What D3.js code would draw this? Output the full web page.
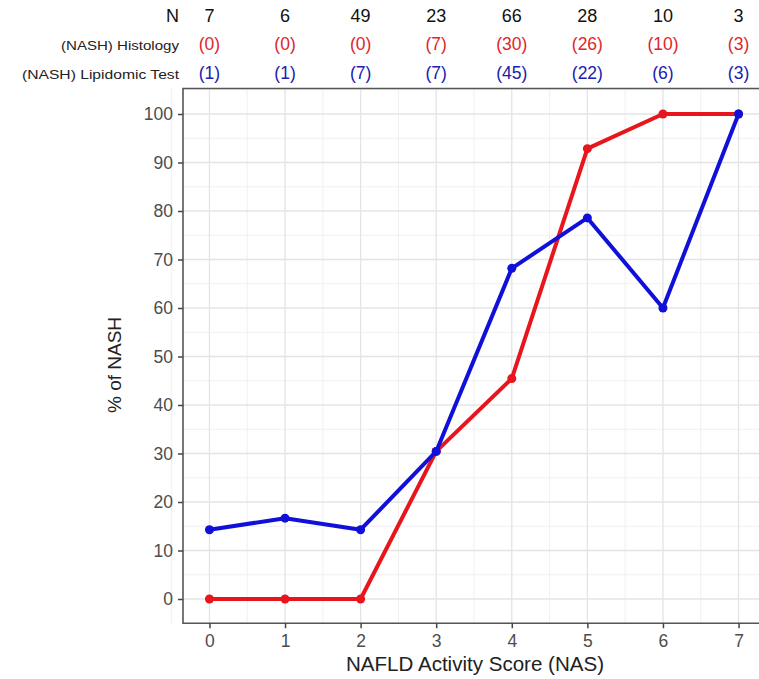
<!DOCTYPE html>
<html>
<head>
<meta charset="utf-8">
<script src="https://cdn.jsdelivr.net/npm/d3@7"></script>
<style>
  html, body { margin: 0; padding: 0; background: #fff; }
  svg { display: block; font-family: "Liberation Sans", Arial, sans-serif; }
</style>
</head>
<body>
<svg id="chart" width="759" height="679"></svg>
<script>
// NAFLD activity score categories and counts per score
const nasScores = [0, 1, 2, 3, 4, 5, 6, 7];
const totalN = [7, 6, 49, 23, 66, 28, 10, 3];
const histologyNash = [0, 0, 0, 7, 30, 26, 10, 3];
const lipidomicNash = [1, 1, 7, 7, 45, 22, 6, 3];
const yTicks = [0, 10, 20, 30, 40, 50, 60, 70, 80, 90, 100];

// Percentages of NASH per score
const histologyPct = histologyNash.map((v, i) => 100 * v / totalN[i]);
const lipidomicPct = lipidomicNash.map((v, i) => 100 * v / totalN[i]);

const svg = d3.select("#chart");
const panel = { left: 183, right: 765, top: 88.5, bottom: 623.25 };

const x = d3.scaleLinear().domain([-0.35, 7.35]).range([panel.left, panel.right]);
const y = d3.scaleLinear().domain([-5, 105]).range([623.25, 89.75]);

// Panel grid: minor then major lines
const grid = svg.append("g");
const minorX = d3.range(-0.5, 7.6, 1);
const minorY = d3.range(-5, 106, 10);
grid.selectAll(".mx").data(minorX).join("line")
  .attr("x1", d => x(d)).attr("x2", d => x(d))
  .attr("y1", panel.top).attr("y2", panel.bottom)
  .attr("stroke", "#f0f0f0").attr("stroke-width", 1);
grid.selectAll(".my").data(minorY).join("line")
  .attr("y1", d => y(d)).attr("y2", d => y(d))
  .attr("x1", panel.left).attr("x2", panel.right)
  .attr("stroke", "#f0f0f0").attr("stroke-width", 1);
grid.selectAll(".Mx").data(nasScores).join("line")
  .attr("x1", d => x(d)).attr("x2", d => x(d))
  .attr("y1", panel.top).attr("y2", panel.bottom)
  .attr("stroke", "#e4e4e4").attr("stroke-width", 1.3);
grid.selectAll(".My").data(yTicks).join("line")
  .attr("y1", d => y(d)).attr("y2", d => y(d))
  .attr("x1", panel.left).attr("x2", panel.right)
  .attr("stroke", "#e4e4e4").attr("stroke-width", 1.3);

// Panel border (top, left, bottom)
svg.append("path")
  .attr("d", `M${panel.right},${panel.top}H${panel.left}V${panel.bottom}H${panel.right}`)
  .attr("fill", "none").attr("stroke", "#555").attr("stroke-width", 1.6);

// Axes
const xAxis = d3.axisBottom(x).tickValues(nasScores).tickSize(5).tickPadding(6);
const yAxis = d3.axisLeft(y).tickValues(yTicks).tickSize(5).tickPadding(5);

const gx = svg.append("g").attr("transform", `translate(0,${panel.bottom})`).call(xAxis);
const gy = svg.append("g").attr("transform", `translate(${panel.left},0)`).call(yAxis);
[gx, gy].forEach(g => {
  g.select(".domain").remove();
  g.selectAll(".tick line").attr("stroke", "#444").attr("stroke-width", 1.5);
  g.selectAll(".tick text").attr("fill", "#4d4d4d").attr("font-size", 17.5)
    .attr("font-family", "Liberation Sans, Arial, sans-serif");
});

// Axis titles
svg.append("text")
  .attr("x", 475).attr("y", 671)
  .attr("text-anchor", "middle").attr("font-size", 19.5).attr("fill", "#222")
  .attr("textLength", 258).attr("lengthAdjust", "spacingAndGlyphs")
  .text("NAFLD Activity Score (NAS)");
svg.append("text")
  .attr("transform", "translate(121,365) rotate(-90)")
  .attr("text-anchor", "middle").attr("font-size", 19).attr("fill", "#222")
  .text("% of NASH");

// Lines and points
const line = d3.line().x((d, i) => x(nasScores[i])).y(d => y(d));
const series = [
  { values: histologyPct, color: "#e8161c" },
  { values: lipidomicPct, color: "#1010d8" }
];
series.forEach(s => {
  svg.append("path").datum(s.values)
    .attr("d", line).attr("fill", "none")
    .attr("stroke", s.color).attr("stroke-width", 4)
    .attr("stroke-linejoin", "round");
  svg.append("g").selectAll("circle").data(s.values).join("circle")
    .attr("cx", (d, i) => x(nasScores[i])).attr("cy", d => y(d))
    .attr("r", 4.5).attr("fill", s.color);
});

// Count table above the panel
const table = svg.append("g");
const rows = [
  { label: "N", values: totalN.map(String), y: 22, color: "#111", size: 18, labelSize: 18, labelColor: "#111", labelLen: null },
  { label: "(NASH) Histology", values: histologyNash.map(v => `(${v})`), y: 50, color: "#e0262a", size: 17.5, labelSize: 13.5, labelColor: "#222", labelLen: 118 },
  { label: "(NASH) Lipidomic Test", values: lipidomicNash.map(v => `(${v})`), y: 79, color: "#2020b0", size: 17.5, labelSize: 13.5, labelColor: "#222", labelLen: 157 }
];
rows.forEach(r => {
  const lbl = table.append("text").attr("x", 179).attr("y", r.y)
    .attr("text-anchor", "end").attr("font-size", r.labelSize).attr("fill", r.labelColor)
    .text(r.label);
  if (r.labelLen) lbl.attr("textLength", r.labelLen).attr("lengthAdjust", "spacingAndGlyphs");
  table.append("g").selectAll("text").data(r.values).join("text")
    .attr("x", (d, i) => x(nasScores[i])).attr("y", r.y)
    .attr("text-anchor", "middle").attr("font-size", r.size).attr("fill", r.color)
    .text(d => d);
});
</script>
</body>
</html>
